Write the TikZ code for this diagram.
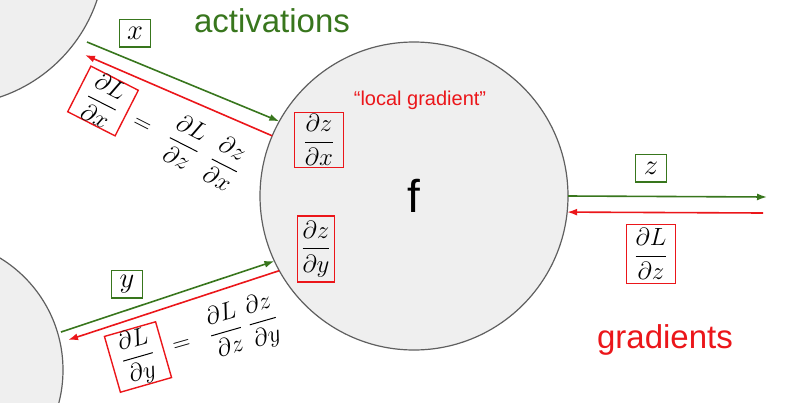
\documentclass[tikz,border=0pt]{standalone}
\usepackage{amsmath}
\usepackage{fontspec}
\setmainfont{Liberation Sans}
\usetikzlibrary{positioning,arrows.meta}

\definecolor{aktgreen}{RGB}{56,118,29}
\definecolor{gradred}{RGB}{235,22,26}
\definecolor{uzolfill}{RGB}{239,239,239}
\definecolor{uzoldraw}{RGB}{95,95,95}

\begin{document}
\begin{tikzpicture}[x=1pt,y=-1pt,
    uzol/.style={circle,draw=uzoldraw,fill=uzolfill,line width=1.2pt,inner sep=0pt,outer sep=0pt},
    gbox/.style={draw=aktgreen,line width=1.4pt,inner sep=2pt,scale=1.15,minimum width=27pt,minimum height=24pt,font=\fontsize{24}{30}\selectfont},
    rbox/.style={draw=gradred,line width=1.4pt,inner xsep=8pt,inner ysep=2pt,font=\fontsize{24}{30}\selectfont},
    eq/.style={inner sep=2pt,font=\fontsize{24}{30}\selectfont},
    fwd/.style={-{Latex[length=10pt,width=7pt]},draw=aktgreen,line width=1.6pt},
    bwd/.style={-{Latex[length=10pt,width=7pt]},draw=gradred,line width=1.6pt}]
            \useasboundingbox (0,0) rectangle (800,402);
            
            %uzly
            \node[uzol,minimum size=308pt] (prevx) at (-49,-49) {}; %predchadzajuci uzol hore
            \node[uzol,minimum size=262pt] (prevy) at (-68,370) {}; %predchadzajuci uzol dole
            \node[uzol,minimum size=308pt] (f) at (414,196) {\fontsize{46}{46}\selectfont f};
            
            %popisy
            \node[font=\fontsize{33}{36}\selectfont,text=aktgreen] (akt) at (272,21) {activations};
            \node[font=\fontsize{33}{36}\selectfont,text=gradred] (grad) at (665,340) {gradients};
            \node[font=\fontsize{20}{22}\selectfont,text=gradred] (lokal) at (420,100) {“local gradient”};
            
            %aktivacie
            \node[gbox] (x) at (135,33) {$x$};
            \node[gbox] (y) at (127,284) {$y$};
            \node[gbox] (z) at (651,168) {$z$};
            
            %gradienty
            \node[rbox,inner xsep=9pt] (dzdx) at (319,140) {$\dfrac{\partial z}{\partial x}$};
            \node[rbox,inner xsep=4pt,inner ysep=5pt] (dzdy) at (316,249) {$\dfrac{\partial z}{\partial y}$};
            \node[rbox,inner ysep=4pt] (dLdz) at (651,254) {$\dfrac{\partial L}{\partial z}$};
            \node[rbox,rotate=-27,inner xsep=10pt,inner ysep=0pt] (dLdx) at (103,101) {$\dfrac{\partial L}{\partial x}$};
            \node[eq,rotate=-27,right=0pt of dLdx] (retx) {$\;=\;\;\dfrac{\partial L}{\partial z}\;\;\dfrac{\partial z}{\partial x}$}; %retazove pravidlo
            \node[rbox,rotate=16,inner xsep=10pt,inner ysep=1pt] (dLdy) at (138,357) {$\dfrac{\partial L}{\partial y}$};
            \node[eq,rotate=16,right=0pt of dLdy] (rety) {$\;=\;\;\dfrac{\partial L}{\partial z}\;\dfrac{\partial z}{\partial y}$};
            
            %sipky
            \coordinate (xstart) at (87,42);
            \coordinate (xback) at (85,55);
            \coordinate (ystart) at (61,332);
            \coordinate (yback) at (68,340);
            \coordinate (zend) at (767,197);
            \coordinate (zback) at (763,213);
            \draw[fwd] (xstart) -- (f.151);
            \draw[bwd] (f.157) -- (xback);
            \draw[fwd] (ystart) -- (f.205);
            \draw[bwd] (f.209) -- (yback);
            \draw[fwd] (f.0) -- (zend);
            \draw[bwd] (zback) -- (f.-6);
        \end{tikzpicture}
\end{document}
